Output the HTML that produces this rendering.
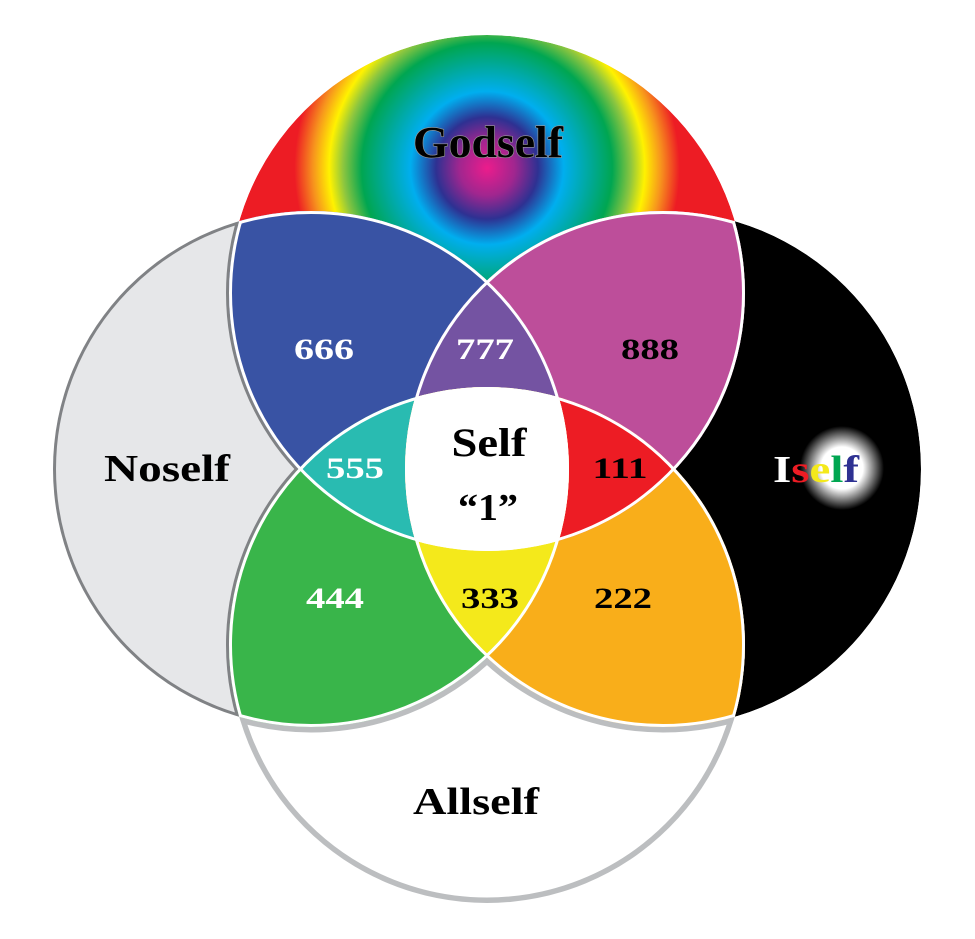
<!DOCTYPE html>
<html><head><meta charset="utf-8"><style>html,body{margin:0;padding:0;background:#fff;}svg{display:block}</style></head>
<body>
<svg width="975" height="939" viewBox="0 0 975 939" xmlns="http://www.w3.org/2000/svg">
<defs>
  <radialGradient id="rg" gradientUnits="userSpaceOnUse" cx="487" cy="168" r="232">
    <stop offset="0" stop-color="#ec1c8c"/>
    <stop offset="0.12" stop-color="#a0268f"/>
    <stop offset="0.22" stop-color="#2e3192"/>
    <stop offset="0.33" stop-color="#00aeef"/>
    <stop offset="0.44" stop-color="#00a99d"/>
    <stop offset="0.54" stop-color="#00a651"/>
    <stop offset="0.62" stop-color="#8dc63f"/>
    <stop offset="0.68" stop-color="#fff200"/>
    <stop offset="0.75" stop-color="#f7941d"/>
    <stop offset="0.83" stop-color="#ed1c24"/>
    <stop offset="1" stop-color="#ed1c24"/>
  </radialGradient>
  <radialGradient id="glow" gradientUnits="userSpaceOnUse" cx="842" cy="468" r="42">
    <stop offset="0" stop-color="#fff"/>
    <stop offset="0.5" stop-color="#fff"/>
    <stop offset="1" stop-color="#000"/>
  </radialGradient>
  <clipPath id="cT"><circle cx="487" cy="293" r="258"/></clipPath>
  <clipPath id="cB"><circle cx="487" cy="645" r="258"/></clipPath>
  <clipPath id="cL"><circle cx="311" cy="469" r="258"/></clipPath>
  <clipPath id="cR"><circle cx="663" cy="469" r="258"/></clipPath>
  <clipPath id="nT"><circle cx="487" cy="645" r="258"/><circle cx="311" cy="469" r="258"/><circle cx="663" cy="469" r="258"/></clipPath>
  <clipPath id="nB"><circle cx="487" cy="293" r="258"/><circle cx="311" cy="469" r="258"/><circle cx="663" cy="469" r="258"/></clipPath>
  <clipPath id="nL"><circle cx="487" cy="293" r="258"/><circle cx="487" cy="645" r="258"/><circle cx="663" cy="469" r="258"/></clipPath>
  <clipPath id="nR"><circle cx="487" cy="293" r="258"/><circle cx="487" cy="645" r="258"/><circle cx="311" cy="469" r="258"/></clipPath>
  <mask id="mT" maskUnits="userSpaceOnUse" x="0" y="0" width="975" height="939">
    <circle cx="487" cy="293" r="258" fill="#fff"/>
    <circle cx="311" cy="469" r="258" fill="#000"/><circle cx="663" cy="469" r="258" fill="#000"/>
  </mask>
  <mask id="mL" maskUnits="userSpaceOnUse" x="0" y="0" width="975" height="939">
    <circle cx="311" cy="469" r="258" fill="#fff"/>
    <circle cx="487" cy="293" r="258" fill="#000"/><circle cx="487" cy="645" r="258" fill="#000"/>
  </mask>
  <mask id="mR" maskUnits="userSpaceOnUse" x="0" y="0" width="975" height="939">
    <circle cx="663" cy="469" r="258" fill="#fff"/>
    <circle cx="487" cy="293" r="258" fill="#000"/><circle cx="487" cy="645" r="258" fill="#000"/>
  </mask>
  <mask id="mB" maskUnits="userSpaceOnUse" x="0" y="0" width="975" height="939">
    <circle cx="487" cy="645" r="258" fill="#fff"/>
    <circle cx="311" cy="469" r="258" fill="#000"/><circle cx="663" cy="469" r="258" fill="#000"/>
  </mask>
</defs>

<!-- single-set regions -->
<g mask="url(#mT)"><circle cx="487" cy="293" r="258" fill="url(#rg)"/></g>
<g mask="url(#mL)">
  <circle cx="311" cy="469" r="258" fill="#e6e7e9" stroke="#808285" stroke-width="6"/>
  <circle cx="487" cy="293" r="258" fill="none" stroke="#808285" stroke-width="6"/>
  <circle cx="487" cy="645" r="258" fill="none" stroke="#808285" stroke-width="6"/>
</g>
<g mask="url(#mR)"><circle cx="663" cy="469" r="258" fill="#000"/></g>
<g mask="url(#mB)">
  <circle cx="487" cy="645" r="258" fill="#fff" stroke="#bcbec0" stroke-width="11"/>
  <circle cx="311" cy="469" r="258" fill="none" stroke="#bcbec0" stroke-width="11"/>
  <circle cx="663" cy="469" r="258" fill="none" stroke="#bcbec0" stroke-width="11"/>
</g>

<!-- pairs -->
<circle cx="311" cy="469" r="258" fill="#3953a4" clip-path="url(#cT)"/>
<circle cx="663" cy="469" r="258" fill="#bd4e9a" clip-path="url(#cT)"/>
<circle cx="311" cy="469" r="258" fill="#39b54a" clip-path="url(#cB)"/>
<circle cx="663" cy="469" r="258" fill="#f9ae1a" clip-path="url(#cB)"/>
<!-- triples -->
<g clip-path="url(#cL)"><circle cx="663" cy="469" r="258" fill="#7453a2" clip-path="url(#cT)"/></g>
<g clip-path="url(#cL)"><circle cx="487" cy="645" r="258" fill="#29bbb1" clip-path="url(#cT)"/></g>
<g clip-path="url(#cR)"><circle cx="487" cy="645" r="258" fill="#ed1c24" clip-path="url(#cT)"/></g>
<g clip-path="url(#cL)"><circle cx="663" cy="469" r="258" fill="#f4e91b" clip-path="url(#cB)"/></g>
<!-- all four -->
<g clip-path="url(#cL)"><g clip-path="url(#cR)"><circle cx="487" cy="645" r="258" fill="#fff" clip-path="url(#cT)"/></g></g>

<!-- white separator lines -->
<g clip-path="url(#nT)"><circle cx="487" cy="293" r="258" fill="none" stroke="#fff" stroke-width="6" clip-path="url(#cT)"/></g>
<g clip-path="url(#nB)"><circle cx="487" cy="645" r="258" fill="none" stroke="#fff" stroke-width="6" clip-path="url(#cB)"/></g>
<g clip-path="url(#nL)"><circle cx="311" cy="469" r="258" fill="none" stroke="#fff" stroke-width="6" clip-path="url(#cL)"/></g>
<g clip-path="url(#nR)"><circle cx="663" cy="469" r="258" fill="none" stroke="#fff" stroke-width="6" clip-path="url(#cR)"/></g>

<!-- Iself glow -->
<circle cx="842" cy="468" r="42" fill="url(#glow)"/>

<g font-family="'Liberation Serif', serif" font-weight="bold" text-anchor="middle">
  <text x="488" y="157" font-size="44" fill="#000" stroke="#9a9a9a" stroke-width="1.2" paint-order="stroke" textLength="150" lengthAdjust="spacingAndGlyphs">Godself</text>
  <text x="167" y="481" font-size="38" fill="#000" textLength="126" lengthAdjust="spacingAndGlyphs">Noself</text>
  <text x="476" y="814" font-size="38" fill="#000" textLength="126" lengthAdjust="spacingAndGlyphs">Allself</text>
  <text x="816" y="482" font-size="38" textLength="86" lengthAdjust="spacingAndGlyphs"><tspan fill="#fff">I</tspan><tspan fill="#ed1c24">s</tspan><tspan fill="#f4e91b">e</tspan><tspan fill="#00a651">l</tspan><tspan fill="#2e3192">f</tspan></text>
  <text x="489" y="456" font-size="40" fill="#000" textLength="75" lengthAdjust="spacingAndGlyphs">Self</text>
  <text x="488" y="520" font-size="38" fill="#000" textLength="60" lengthAdjust="spacingAndGlyphs">“1”</text>
  <g font-size="30">
    <text x="324" y="359" fill="#fff" textLength="60" lengthAdjust="spacingAndGlyphs">666</text>
    <text x="485" y="359" fill="#fff" textLength="58" lengthAdjust="spacingAndGlyphs">777</text>
    <text x="650" y="359" fill="#000" textLength="58" lengthAdjust="spacingAndGlyphs">888</text>
    <text x="355" y="478" fill="#fff" textLength="58" lengthAdjust="spacingAndGlyphs">555</text>
    <text x="620" y="478" fill="#000" textLength="55" lengthAdjust="spacingAndGlyphs">111</text>
    <text x="335" y="608" fill="#fff" textLength="58" lengthAdjust="spacingAndGlyphs">444</text>
    <text x="490" y="608" fill="#000" textLength="58" lengthAdjust="spacingAndGlyphs">333</text>
    <text x="623" y="608" fill="#000" textLength="58" lengthAdjust="spacingAndGlyphs">222</text>
  </g>
</g>
</svg>
</body></html>
